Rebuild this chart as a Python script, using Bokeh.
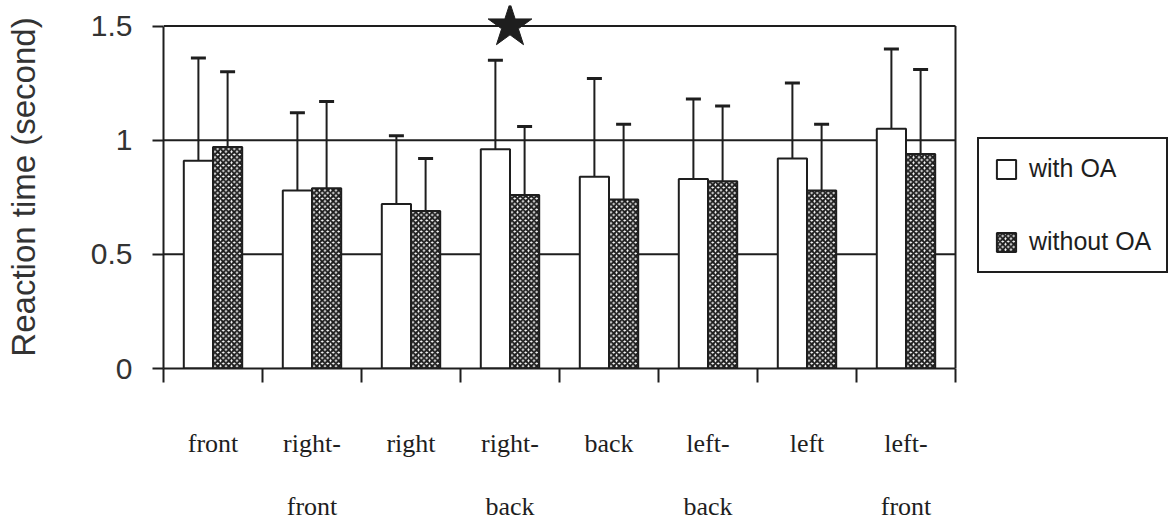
from bokeh.plotting import figure
from bokeh.models import (Range1d, FixedTicker, Whisker, TeeHead, ColumnDataSource,
                          Legend, LegendItem)
from bokeh.embed import file_html
from bokeh.resources import INLINE

# Reaction time by stimulus direction, with and without the OA
categories = ["front", "right-front", "right", "right-back",
              "back", "left-back", "left", "left-front"]
x_labels = ["front", "right-\nfront", "right", "right-\nback",
            "back", "left-\nback", "left", "left-\nfront"]
with_oa = [0.91, 0.78, 0.72, 0.96, 0.84, 0.83, 0.92, 1.05]
with_oa_sd = [0.45, 0.34, 0.30, 0.39, 0.43, 0.35, 0.33, 0.35]
without_oa = [0.97, 0.79, 0.69, 0.76, 0.74, 0.82, 0.78, 0.94]
without_oa_sd = [0.33, 0.38, 0.23, 0.30, 0.33, 0.33, 0.29, 0.37]
significant = ["right-back"]
y_ticks = [0, 0.5, 1, 1.5]
y_tick_labels = ["0", "0.5", "1", "1.5"]

INK = "#1e1e1e"
SANS = "Liberation Sans"
SERIF = "Liberation Serif"

n = len(categories)
centers = [i + 0.5 for i in range(n)]
boundaries = list(range(n + 1))
bar_w = 0.295
top_val = y_ticks[-1]

# The frame runs on past the last category so the legend can sit beside the plot box
PX_PER_CAT = 99
LEFT, BOTTOM, TOP = 163, 160, 5
W, H = 1171, 528
x_end = (W - LEFT) / PX_PER_CAT

p = figure(width=W, height=H, x_range=Range1d(0, x_end), y_range=Range1d(0, 1.59),
           output_backend="svg", toolbar_location=None,
           min_border_left=LEFT, min_border_right=0, min_border_top=TOP,
           min_border_bottom=BOTTOM)
p.outline_line_color = None
p.background_fill_color = "white"
p.border_fill_color = "white"
p.grid.grid_line_color = None

# y axis
p.yaxis.ticker = FixedTicker(ticks=y_ticks)
p.yaxis.major_label_overrides = dict(zip(y_ticks, y_tick_labels))
p.yaxis.bounds = (0, top_val)
p.yaxis.axis_line_color = INK
p.yaxis.axis_line_width = 2
p.yaxis.major_tick_line_color = INK
p.yaxis.major_tick_line_width = 2
p.yaxis.major_tick_in = 0
p.yaxis.major_tick_out = 11
p.yaxis.minor_tick_line_color = None
p.yaxis.major_label_text_font = SANS
p.yaxis.major_label_text_font_size = "30px"
p.yaxis.major_label_text_color = "#333333"
p.yaxis.major_label_standoff = 20
p.yaxis.axis_label = "Reaction time (second)"
p.yaxis.axis_label_text_font = SANS
p.yaxis.axis_label_text_font_size = "33px"
p.yaxis.axis_label_text_font_style = "normal"
p.yaxis.axis_label_text_color = "#333333"
p.yaxis.axis_label_standoff = 46

# x axis: category names at the centres, tick marks at the boundaries
p.xaxis.ticker = FixedTicker(ticks=centers, minor_ticks=boundaries)
p.xaxis.major_label_overrides = dict(zip(centers, x_labels))
p.xaxis.bounds = (0, n)
p.xaxis.axis_line_color = INK
p.xaxis.axis_line_width = 2
p.xaxis.major_tick_line_color = None
p.xaxis.major_tick_in = 0
p.xaxis.major_tick_out = 0
p.xaxis.minor_tick_line_color = INK
p.xaxis.minor_tick_line_width = 2
p.xaxis.minor_tick_in = 0
p.xaxis.minor_tick_out = 14
p.xaxis.major_label_standoff = 46
p.xaxis.major_label_text_font = SERIF
p.xaxis.major_label_text_font_size = "26px"
p.xaxis.major_label_text_color = INK
p.xaxis.major_label_text_line_height = 2.2

# horizontal rules of the plot box at each y tick, and its right edge
rules = y_ticks[1:]
p.segment(x0=[0] * len(rules), y0=rules, x1=[n] * len(rules), y1=rules,
          line_color=INK, line_width=2)
p.segment(x0=[n], y0=[0], x1=[n], y1=[top_val], line_color=INK, line_width=2)

src = ColumnDataSource(dict(
    x_with=[c - bar_w / 2 for c in centers],
    x_without=[c + bar_w / 2 for c in centers],
    with_oa=with_oa,
    without_oa=without_oa,
    with_top=[m + s for m, s in zip(with_oa, with_oa_sd)],
    without_top=[m + s for m, s in zip(without_oa, without_oa_sd)],
))

r_with = p.vbar(x="x_with", top="with_oa", width=bar_w, source=src,
                fill_color="white", line_color=INK, line_width=2)
r_without = p.vbar(x="x_without", top="without_oa", width=bar_w, source=src,
                   fill_color="white", line_color=INK, line_width=2,
                   hatch_pattern="diagonal_cross", hatch_color=INK,
                   hatch_scale=5.5, hatch_weight=2.1)

for base, upper, lower in (("x_with", "with_top", "with_oa"),
                           ("x_without", "without_top", "without_oa")):
    w = Whisker(source=src, base=base, upper=upper, lower=lower,
                line_color=INK, line_width=2,
                upper_head=TeeHead(size=15, line_color=INK, line_width=3),
                lower_head=None)
    p.add_layout(w)

# significance marker
sig_x = [centers[categories.index(c)] for c in significant]
p.scatter(x=sig_x, y=[top_val] * len(sig_x), marker="star", size=46,
          fill_color=INK, line_color=INK)

legend = Legend(items=[LegendItem(label="with OA", renderers=[r_with]),
                       LegendItem(label="without OA", renderers=[r_without])],
                location=(814, 95), orientation="vertical",
                glyph_width=24, glyph_height=24, label_height=24,
                spacing=44, padding=15, label_standoff=11, margin=0,
                label_text_font=SANS, label_text_font_size="25px", label_text_color=INK,
                border_line_color=INK, border_line_width=2, border_line_alpha=1,
                background_fill_color="white", background_fill_alpha=1)
p.add_layout(legend, "center")

open("out.html", "w").write(file_html(p, INLINE))
